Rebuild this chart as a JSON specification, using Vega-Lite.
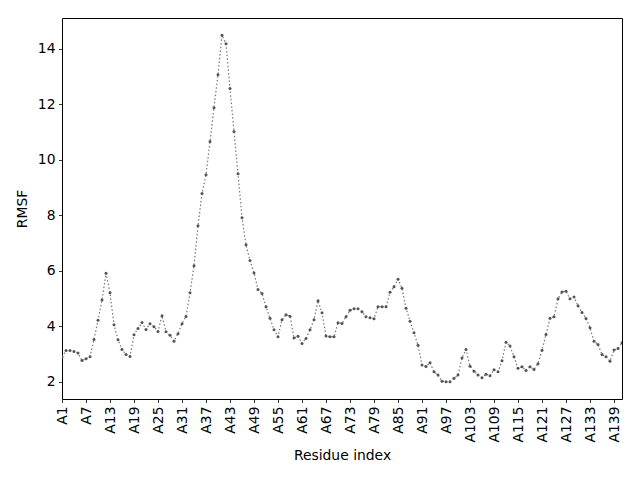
{
  "$schema": "https://vega.github.io/schema/vega-lite/v6.json",
  "autosize": {"type": "none"},
  "padding": {"left": 62, "top": 18, "right": 18, "bottom": 81},
  "width": 560,
  "height": 381,
  "background": "white",
  "config": {
    "view": {"stroke": "black", "strokeWidth": 1},
    "font": "DejaVu Sans",
    "axis": {
      "grid": false,
      "domain": false,
      "tickColor": "black",
      "tickWidth": 0.8,
      "tickSize": 3.5,
      "labelFont": "DejaVu Sans",
      "labelFontSize": 13.9,
      "labelColor": "black",
      "titleFont": "DejaVu Sans",
      "titleFontSize": 13.9,
      "titleFontWeight": "normal",
      "titleColor": "black",
      "labelPadding": 3.5
    }
  },
  "data": {
    "values": [
      {"r": "A1", "v": 2.90}, {"r": "A2", "v": 3.13}, {"r": "A3", "v": 3.13}, {"r": "A4", "v": 3.10}, {"r": "A5", "v": 3.04},
      {"r": "A6", "v": 2.77}, {"r": "A7", "v": 2.84}, {"r": "A8", "v": 2.91}, {"r": "A9", "v": 3.53}, {"r": "A10", "v": 4.22},
      {"r": "A11", "v": 4.95}, {"r": "A12", "v": 5.92}, {"r": "A13", "v": 5.21}, {"r": "A14", "v": 4.06}, {"r": "A15", "v": 3.52},
      {"r": "A16", "v": 3.17}, {"r": "A17", "v": 2.99}, {"r": "A18", "v": 2.92}, {"r": "A19", "v": 3.70}, {"r": "A20", "v": 3.93},
      {"r": "A21", "v": 4.14}, {"r": "A22", "v": 3.89}, {"r": "A23", "v": 4.10}, {"r": "A24", "v": 3.99}, {"r": "A25", "v": 3.82},
      {"r": "A26", "v": 4.39}, {"r": "A27", "v": 3.81}, {"r": "A28", "v": 3.68}, {"r": "A29", "v": 3.47}, {"r": "A30", "v": 3.74},
      {"r": "A31", "v": 4.10}, {"r": "A32", "v": 4.36}, {"r": "A33", "v": 5.21}, {"r": "A34", "v": 6.19}, {"r": "A35", "v": 7.63},
      {"r": "A36", "v": 8.79}, {"r": "A37", "v": 9.47}, {"r": "A38", "v": 10.66}, {"r": "A39", "v": 11.88}, {"r": "A40", "v": 13.07},
      {"r": "A41", "v": 14.49}, {"r": "A42", "v": 14.19}, {"r": "A43", "v": 12.57}, {"r": "A44", "v": 11.02}, {"r": "A45", "v": 9.50},
      {"r": "A46", "v": 7.92}, {"r": "A47", "v": 6.94}, {"r": "A48", "v": 6.38}, {"r": "A49", "v": 5.93}, {"r": "A50", "v": 5.33},
      {"r": "A51", "v": 5.19}, {"r": "A52", "v": 4.71}, {"r": "A53", "v": 4.30}, {"r": "A54", "v": 3.88}, {"r": "A55", "v": 3.63},
      {"r": "A56", "v": 4.24}, {"r": "A57", "v": 4.42}, {"r": "A58", "v": 4.37}, {"r": "A59", "v": 3.58}, {"r": "A60", "v": 3.65},
      {"r": "A61", "v": 3.39}, {"r": "A62", "v": 3.57}, {"r": "A63", "v": 3.88}, {"r": "A64", "v": 4.24}, {"r": "A65", "v": 4.93},
      {"r": "A66", "v": 4.49}, {"r": "A67", "v": 3.66}, {"r": "A68", "v": 3.63}, {"r": "A69", "v": 3.63}, {"r": "A70", "v": 4.13},
      {"r": "A71", "v": 4.11}, {"r": "A72", "v": 4.35}, {"r": "A73", "v": 4.58}, {"r": "A74", "v": 4.64}, {"r": "A75", "v": 4.64},
      {"r": "A76", "v": 4.53}, {"r": "A77", "v": 4.35}, {"r": "A78", "v": 4.31}, {"r": "A79", "v": 4.28}, {"r": "A80", "v": 4.71},
      {"r": "A81", "v": 4.71}, {"r": "A82", "v": 4.71}, {"r": "A83", "v": 5.23}, {"r": "A84", "v": 5.43}, {"r": "A85", "v": 5.70},
      {"r": "A86", "v": 5.38}, {"r": "A87", "v": 4.66}, {"r": "A88", "v": 4.19}, {"r": "A89", "v": 3.77}, {"r": "A90", "v": 3.32},
      {"r": "A91", "v": 2.61}, {"r": "A92", "v": 2.56}, {"r": "A93", "v": 2.69}, {"r": "A94", "v": 2.37}, {"r": "A95", "v": 2.25},
      {"r": "A96", "v": 2.03}, {"r": "A97", "v": 2.01}, {"r": "A98", "v": 2.01}, {"r": "A99", "v": 2.13}, {"r": "A100", "v": 2.25},
      {"r": "A101", "v": 2.86}, {"r": "A102", "v": 3.17}, {"r": "A103", "v": 2.57}, {"r": "A104", "v": 2.39}, {"r": "A105", "v": 2.25},
      {"r": "A106", "v": 2.15}, {"r": "A107", "v": 2.28}, {"r": "A108", "v": 2.22}, {"r": "A109", "v": 2.44}, {"r": "A110", "v": 2.37},
      {"r": "A111", "v": 2.76}, {"r": "A112", "v": 3.43}, {"r": "A113", "v": 3.30}, {"r": "A114", "v": 2.91}, {"r": "A115", "v": 2.49},
      {"r": "A116", "v": 2.55}, {"r": "A117", "v": 2.41}, {"r": "A118", "v": 2.55}, {"r": "A119", "v": 2.45}, {"r": "A120", "v": 2.66},
      {"r": "A121", "v": 3.14}, {"r": "A122", "v": 3.71}, {"r": "A123", "v": 4.30}, {"r": "A124", "v": 4.35}, {"r": "A125", "v": 5.00},
      {"r": "A126", "v": 5.24}, {"r": "A127", "v": 5.27}, {"r": "A128", "v": 5.00}, {"r": "A129", "v": 5.06}, {"r": "A130", "v": 4.75},
      {"r": "A131", "v": 4.50}, {"r": "A132", "v": 4.29}, {"r": "A133", "v": 3.95}, {"r": "A134", "v": 3.47}, {"r": "A135", "v": 3.35},
      {"r": "A136", "v": 2.99}, {"r": "A137", "v": 2.91}, {"r": "A138", "v": 2.75}, {"r": "A139", "v": 3.15}, {"r": "A140", "v": 3.21},
      {"r": "A141", "v": 3.41}
    ]
  },
  "encoding": {
    "x": {
      "field": "r",
      "type": "ordinal",
      "sort": null,
      "scale": {"type": "point", "padding": 0},
      "axis": {
        "title": "Residue index",
        "values": ["A1","A7","A13","A19","A25","A31","A37","A43","A49","A55","A61","A67","A73","A79","A85","A91","A97","A103","A109","A115","A121","A127","A133","A139"],
        "labelAngle": -90,
        "labelAlign": "right",
        "labelBaseline": "middle",
        "titlePadding": 6
      }
    },
    "y": {
      "field": "v",
      "type": "quantitative",
      "scale": {"domain": [1.386, 15.114], "nice": false, "zero": false},
      "axis": {
        "title": "RMSF",
        "values": [2, 4, 6, 8, 10, 12, 14],
        "titlePadding": 8
      }
    }
  },
  "layer": [
    {
      "mark": {"type": "line", "color": "#777777", "strokeWidth": 1.2, "strokeDash": [1.5, 2.2], "clip": true}
    },
    {
      "mark": {"type": "point", "filled": true, "shape": "circle", "size": 9, "color": "#555555", "opacity": 1, "clip": true}
    }
  ]
}
